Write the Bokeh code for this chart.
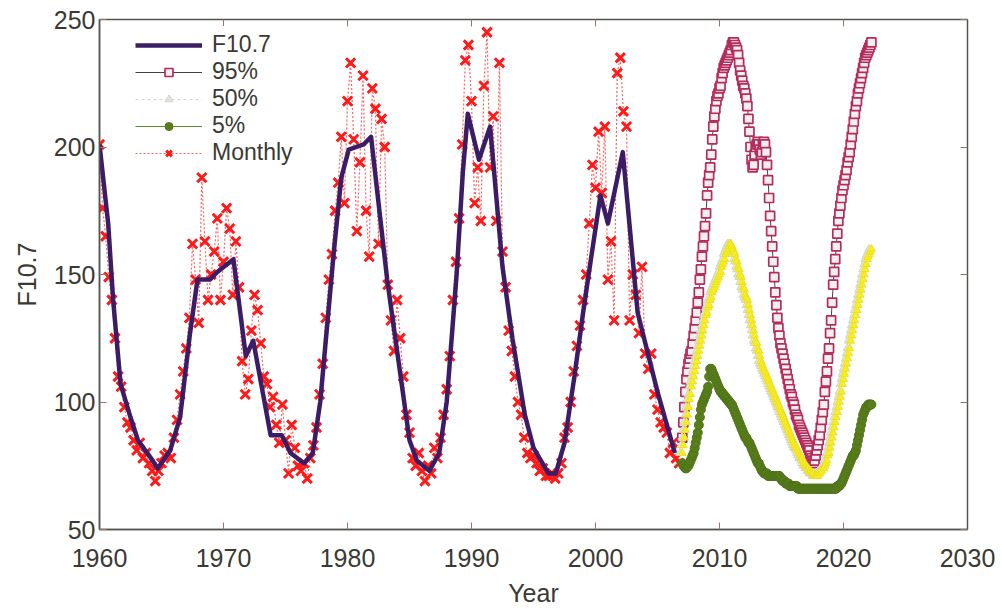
from bokeh.plotting import figure
from bokeh.models import (Range1d, FixedTicker, LinearAxis, Legend, LegendItem,
                          CustomJSTickFormatter, ColumnDataSource)
from bokeh.transform import dodge
from bokeh.embed import file_html
from bokeh.resources import INLINE

# ---------------- data ----------------
x_ticks = [1960, 1970, 1980, 1990, 2000, 2010, 2020, 2030]
y_ticks = [50, 100, 150, 200, 250]

# smoothed F10.7
f107_year = [1960.0, 1960.7, 1961.1, 1961.7, 1962.5, 1963.1, 1964.0, 1964.7, 1965.7, 1966.5,
             1967.3, 1967.9, 1968.9, 1969.5, 1970.8, 1971.8, 1972.4, 1973.8, 1974.7, 1975.4,
             1976.5, 1977.2, 1977.8, 1978.9, 1979.5, 1980.1, 1981.3, 1981.9, 1983.2, 1984.0,
             1985.0, 1985.6, 1986.6, 1987.4, 1988.0, 1988.8, 1989.3, 1989.7, 1990.6, 1991.5,
             1992.5, 1993.3, 1994.3, 1995.0, 1996.2, 1996.8, 1997.5, 1998.3, 1999.0, 1999.6,
             2000.4, 2001.0, 2002.2, 2003.4, 2005.0, 2006.4]
f107_val = [201, 170, 140, 107, 94, 85, 79, 74, 81, 94,
            127, 148, 148, 151, 156, 118, 124, 87, 87, 80,
            76, 80, 100, 159, 188, 199, 201, 204, 148, 120,
            85, 77, 73, 80, 100, 150, 190, 213, 195, 208,
            153, 125, 95, 82, 72, 72, 84, 110, 135, 155,
            181, 170, 198, 135, 104, 80]

# monthly observations (plotted every quarter, 1960.0 .. 2006.75)
monthly_start = 1960.0
monthly_val = [
    201, 176, 165, 149,  140, 125, 110, 106,  98, 92, 90, 85,  81, 84, 78, 80,
    76, 73, 69, 73,  76, 79, 80, 78,  86, 93, 103, 112,  121, 133, 162, 148,
    131, 188, 163, 140,  150, 159, 172, 140,  155, 176, 168, 142,  163, 145, 116, 103,
    109, 128, 142, 136,  123, 110, 107, 98,  102, 91, 84, 99,  85, 72, 91, 82,
    75, 73, 76, 70,  78, 83, 90, 103,  115, 133, 148, 158,  175, 186, 204, 178,
    218, 233, 203, 167,  194, 228, 175, 157,  223, 215, 162, 211,  200, 146, 132, 120,
    140, 125, 110, 95,  88, 78, 75, 80,  73, 69, 75, 72,  82, 78, 86, 95,
    105, 118, 140, 155,  172, 201, 234, 240,  218, 178, 192, 171,  224, 245, 192, 212,
    171, 233, 159, 145,  128, 120, 110, 100,  95, 86, 80, 78,  79, 76, 73, 74,
    71, 71, 72, 70,  72, 76, 86, 90,  100, 112, 122, 130,  140, 150, 170, 193,
    184, 206, 182, 208,  148, 163, 132, 229,  235, 214, 208, 132,  150, 142, 127, 153,
    119, 113, 119, 103,  97, 92, 90, 88,  80, 84, 78, 76,
]

# predictions, monthly from 2007.0
pred_start = 2007.0
p95 = [
    86, 92, 98, 104, 109, 112, 115, 117, 119, 120, 123, 126,
    129, 132, 135, 139, 143, 148, 152, 157, 161, 165, 169, 174,
    181, 186, 189, 192, 197, 203, 208, 212, 215, 218, 220, 221,
    223, 224, 227, 229, 231, 232, 233, 234, 235, 236, 237, 238,
    240, 241, 241, 240, 239, 238, 236, 233, 230, 228, 226, 224,
    223, 221, 219, 216, 211, 206, 200, 195, 192, 193, 197, 200,
    201, 202, 201, 199, 197, 198, 201, 202, 201, 198, 193, 187,
    180, 173, 167, 161, 155, 149, 143, 138, 133, 129, 126, 123,
    121, 119, 117, 115, 113, 111, 109, 107, 105, 103, 102, 100,
    99, 97, 95, 94, 93, 91, 90, 89, 88, 87, 86, 85,
    84, 83, 82, 81, 79, 78, 77, 76, 77, 79, 81, 83,
    85, 87, 90, 93, 96, 99, 104, 108, 112, 117, 121, 127,
    132, 139, 146, 151, 156, 161, 166, 171, 174, 177, 180, 183,
    185, 187, 189, 191, 194, 196, 198, 201, 204, 207, 210, 213,
    216, 218, 221, 223, 225, 227, 229, 231, 233, 235, 236, 237,
    238, 239, 240, 241,
]
p50 = [
    80, 83, 86, 89, 92, 95, 98, 101, 103, 106, 108, 110,
    112, 114, 116, 118, 120, 122, 124, 126, 128, 130, 132, 134,
    135, 137, 138, 140, 141, 143, 144, 145, 146, 147, 148, 149,
    150, 151, 153, 154, 155, 156, 158, 159, 160, 161, 162, 162,
    161, 160, 159, 158, 156, 155, 153, 152, 150, 149, 147, 145,
    144, 142, 141, 140, 138, 136, 134, 132, 130, 128, 126, 124,
    123, 121, 120, 118, 116, 115, 114, 113, 112, 111, 110, 109,
    108, 107, 106, 105, 104, 103, 102, 101, 100, 99, 98, 97,
    96, 95, 94, 93, 92, 91, 90, 89, 88, 87, 86, 85,
    84, 83, 82, 82, 81, 80, 79, 78, 78, 77, 76, 75,
    75, 74, 74, 73, 73, 72, 72, 72, 71, 71, 71, 71,
    72, 72, 73, 73, 74, 74, 75, 76, 77, 79, 80, 82,
    84, 86, 88, 90, 92, 94, 96, 98, 100, 102, 104, 107,
    109, 111, 113, 115, 117, 119, 121, 124, 126, 128, 130, 132,
    134, 136, 138, 140, 142, 144, 146, 148, 150, 152, 154, 156,
    157, 158, 159, 160,
]
p5 = [
    76, 75, 75, 74, 74, 75, 75, 76, 77, 78, 79, 80,
    82, 84, 86, 88, 91, 94, 97, 99, 100, 101, 102, 103,
    104, 106, 110, 113, 113, 112, 111, 110, 109, 108, 107, 106,
    105, 104, 104, 103, 103, 102, 102, 101, 101, 100, 100, 99,
    99, 98, 97, 96, 95, 94, 93, 92, 91, 90, 89, 88,
    87, 86, 86, 85, 84, 84, 83, 82, 81, 80, 79, 78,
    77, 76, 76, 75, 74, 73, 73, 72, 72, 72, 72, 71,
    71, 71, 71, 71, 71, 71, 71, 71, 71, 71, 71, 70,
    70, 69, 69, 69, 68, 68, 68, 68, 67, 67, 67, 67,
    67, 67, 67, 67, 66, 66, 66, 66, 66, 66, 66, 66,
    66, 66, 66, 66, 66, 66, 66, 66, 66, 66, 66, 66,
    66, 66, 66, 66, 66, 66, 66, 66, 66, 66, 66, 66,
    66, 66, 66, 66, 66, 66, 67, 67, 67, 68, 68, 69,
    70, 71, 72, 73, 74, 75, 76, 77, 78, 79, 79, 80,
    81, 83, 85, 87, 89, 91, 93, 95, 96, 97, 98, 98,
    99, 99, 99, 99,
]

monthly_year = [monthly_start + 0.25 * i for i in range(len(monthly_val))]
pred_year = [pred_start + i / 12 for i in range(len(p95))]

src_f = ColumnDataSource(dict(x=f107_year, y=f107_val))
src_m = ColumnDataSource(dict(x=monthly_year, y=monthly_val))
src_p = ColumnDataSource(dict(x=pred_year, p95=p95, p50=p50, p5=p5))

# ---------------- figure ----------------
FONT = "Liberation Sans"
TXT = "#3a3a33"

p = figure(width=1002, height=609, output_backend="svg", toolbar_location=None,
           x_range=Range1d(1960, 2030), y_range=Range1d(50, 250),
           min_border_left=99, min_border_right=35, min_border_top=19, min_border_bottom=80,
           background_fill_color="white", border_fill_color="white")
p.grid.visible = False
p.outline_line_color = "#555550"
p.outline_line_width = 1.5

for ax in (p.xaxis[0], p.yaxis[0]):
    ax.major_tick_in = 7
    ax.major_tick_out = 0
    ax.minor_tick_line_color = None
    ax.major_tick_line_color = "#a07068"
    ax.axis_line_color = "#555550"
    ax.axis_line_width = 1.5
    ax.major_label_text_font = FONT
    ax.major_label_text_font_size = "25px"
    ax.major_label_text_color = TXT
    ax.axis_label_text_font = FONT
    ax.axis_label_text_font_size = "25px"
    ax.axis_label_text_font_style = "normal"
    ax.axis_label_text_color = TXT

p.xaxis[0].ticker = FixedTicker(ticks=x_ticks)
p.yaxis[0].ticker = FixedTicker(ticks=y_ticks)
p.xaxis[0].axis_label = "Year"
p.yaxis[0].axis_label = "F10.7"
p.xaxis[0].major_label_standoff = 19
p.xaxis[0].axis_label_standoff = 9
p.yaxis[0].major_label_standoff = 4
p.yaxis[0].axis_label_standoff = 10

blank = CustomJSTickFormatter(code="return ''")
top = LinearAxis(ticker=FixedTicker(ticks=x_ticks), formatter=blank)
right = LinearAxis(ticker=FixedTicker(ticks=y_ticks), formatter=blank)
for ax in (top, right):
    ax.major_tick_in = 7
    ax.major_tick_out = 0
    ax.minor_tick_line_color = None
    ax.major_tick_line_color = "#907868"
    ax.axis_line_color = "#555550"
    ax.major_label_text_font_size = "1px"
    ax.major_label_standoff = 0
p.add_layout(top, "above")
p.add_layout(right, "right")

# monthly (red X with dotted line)
r_ml = p.line("x", "y", source=src_m, line_color="#ff3b3b", line_width=1.2,
              line_dash="2 2", line_alpha=0.8)
r_ms = p.scatter("x", "y", source=src_m, marker="x", size=13, line_color="#ff1a1a",
                 line_width=3)

# smoothed F10.7
r_f = p.line("x", "y", source=src_f, line_color="#3b1d66", line_width=4.5,
             line_join="round")

# 95%
r95l = p.line("x", "p95", source=src_p, line_color="#4a4040", line_width=1)
r95s = p.scatter("x", "p95", source=src_p, marker="square", size=9, line_color="#b52c5c",
                 fill_color="#f3eef0", line_width=1.7)

# 50% (light grey triangles, with yellow print layer)
r50l = p.line(dodge("x", -0.2, range=p.x_range), "p50", source=src_p, line_color="#d6d6cc",
              line_width=1, line_dash="3 3")
r50s = p.scatter(dodge("x", -0.2, range=p.x_range), "p50", source=src_p, marker="triangle",
                 size=8, line_color="#d4d4cc", fill_color="#e4e4dc", line_width=1)
r50y = p.scatter("x", "p50", source=src_p, marker="triangle", size=8,
                 line_color="#eee21a", fill_color="#f6ee2a", line_width=1)

# 5%
r5l = p.line("x", "p5", source=src_p, line_color="#5d8a2c", line_width=1)
r5s = p.scatter("x", "p5", source=src_p, marker="circle", size=9, line_color="#4f7419",
                fill_color="#5a7d1c", line_width=1)

legend = Legend(items=[
    LegendItem(label="F10.7", renderers=[r_f]),
    LegendItem(label="95%", renderers=[r95l, r95s]),
    LegendItem(label="50%", renderers=[r50l, r50s]),
    LegendItem(label="5%", renderers=[r5l, r5s]),
    LegendItem(label="Monthly", renderers=[r_ml, r_ms]),
], location=(31, 358))
legend.label_text_font = FONT
legend.label_text_font_size = "23px"
legend.label_text_color = TXT
legend.glyph_width = 67
legend.glyph_height = 20
legend.label_height = 20
legend.label_standoff = 10
legend.spacing = 0
legend.padding = 5
legend.margin = 0
legend.border_line_alpha = 0
legend.background_fill_color = "white"
legend.background_fill_alpha = 1
p.add_layout(legend)

open("out.html", "w").write(file_html(p, INLINE))
